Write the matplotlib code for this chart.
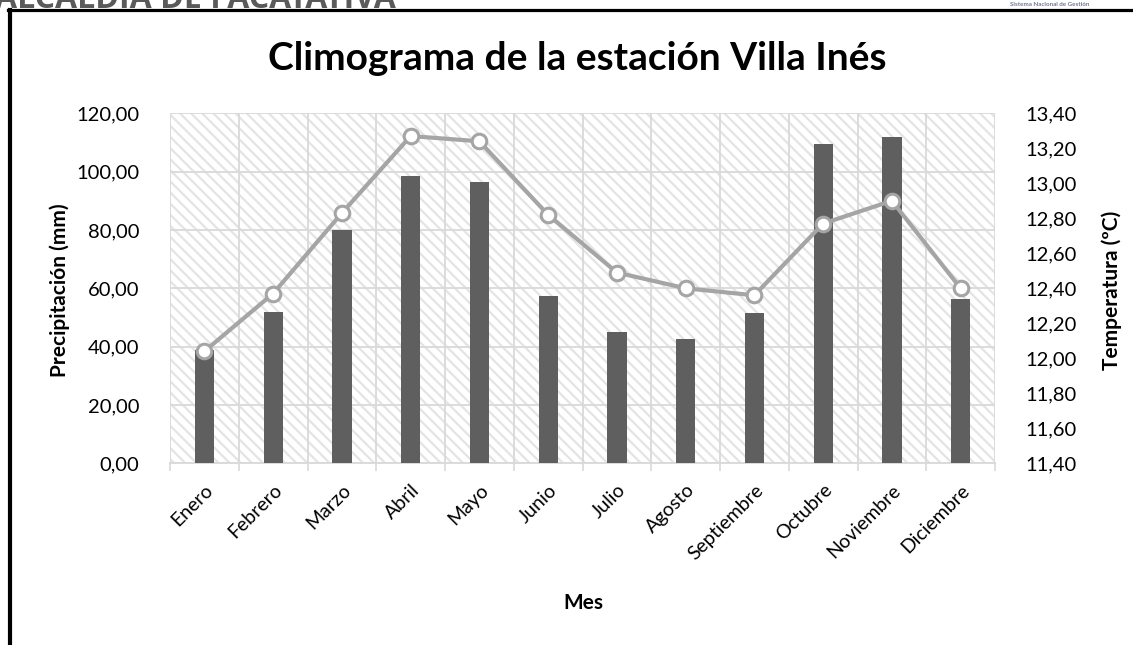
import matplotlib.pyplot as plt
from matplotlib.lines import Line2D
from matplotlib.patches import Rectangle
from matplotlib.ticker import FuncFormatter, FixedLocator

plt.rcParams['font.family'] = ['Lato', 'DejaVu Sans']
plt.rcParams['hatch.linewidth'] = 1.6

meses = ["Enero", "Febrero", "Marzo", "Abril", "Mayo", "Junio", "Julio",
         "Agosto", "Septiembre", "Octubre", "Noviembre", "Diciembre"]
precipitacion = [38.8, 52.0, 80.0, 98.6, 96.6, 57.4, 44.9, 42.7, 51.5, 109.5, 111.8, 56.2]
temperatura = [12.04, 12.37, 12.83, 13.27, 13.24, 12.82, 12.49, 12.40, 12.36, 12.77, 12.90, 12.40]

W, H = 1133, 645
fig = plt.figure(figsize=(W / 100, H / 100), dpi=100)

# page decoration (document header + black frame)
fig.text(-0.004, 1 - 8 / H, "ALCALDIA DE FACATATIVA", fontsize=23, fontweight='bold',
         color='#5a5a5a', va='baseline', ha='left', family=['Open Sans', 'DejaVu Sans'])
fig.text(1010 / W, 1 - 6 / H, "Sistema Nacional de Gestión", fontsize=4.5,
         color='#6a7a99', va='baseline', ha='left', fontweight='bold')
fig.add_artist(Line2D([8 / W, 1], [1 - 9.5 / H, 1 - 9.5 / H], transform=fig.transFigure,
                      color='black', lw=2.3))
fig.add_artist(Line2D([10 / W, 10 / W], [0, 1 - 9.5 / H], transform=fig.transFigure,
                      color='black', lw=3.0))

ax = fig.add_axes([170 / W, 1 - 463.3 / H, 825 / W, 350 / H])
ax2 = ax.twinx()

x = list(range(len(meses)))
ax.set_xlim(-0.5, len(meses) - 0.5)
ax.set_ylim(0, 120)
ax2.set_ylim(11.4, 13.4)

# hatched plot background
ax.add_patch(Rectangle((0, 0), 1, 1, transform=ax.transAxes, facecolor='white',
                       edgecolor='#e4e4e4', hatch='\\\\\\', lw=0, zorder=0))

ax.bar(x, precipitacion, width=0.28, color='#5f5f5f', zorder=3)
ax2.plot(x, temperatura, color='#a5a5a5', lw=3.0, marker='o', markersize=10.5,
         markerfacecolor='white', markeredgecolor='#a5a5a5', markeredgewidth=2.2,
         zorder=4)

grid_c = '#d9d9d9'
fmt = FuncFormatter(lambda v, p: f"{v:.2f}".replace('.', ','))
ax.set_yticks(range(0, 121, 20))
ax.yaxis.set_major_formatter(fmt)
ax2.set_yticks([11.4 + 0.2 * i for i in range(11)])
ax2.yaxis.set_major_formatter(fmt)

ax.set_xticks(x)
ax.set_xticklabels(meses, rotation=45, ha='right', rotation_mode='anchor')
ax.xaxis.set_minor_locator(FixedLocator([i - 0.5 for i in range(len(meses) + 1)]))
ax.tick_params(axis='x', which='major', length=0, pad=13, labelsize=14)
ax.tick_params(axis='x', which='minor', length=6, width=1.2, color=grid_c)
ax.tick_params(axis='y', length=0, pad=22, labelsize=14.5)
ax2.tick_params(axis='y', length=0, pad=22, labelsize=14.5)

ax.grid(True, axis='y', color=grid_c, lw=1.3, zorder=1)
ax.grid(True, axis='x', which='minor', color=grid_c, lw=1.3, zorder=1)
ax.set_axisbelow(True)

for a in (ax, ax2):
    for s in a.spines.values():
        s.set_visible(False)
ax.spines['bottom'].set_visible(True)
ax.spines['bottom'].set_color(grid_c)
ax.spines['bottom'].set_linewidth(1.3)
ax2.patch.set_visible(False)

fig.text(577 / W, 1 - 58 / H, "Climograma de la estación Villa Inés", fontsize=28,
         fontweight='bold', ha='center', va='center')
fig.text(60 / W, 1 - 290 / H, "Precipitación (mm)", fontsize=15, fontweight='bold',
         rotation=90, ha='center', va='center')
fig.text(1112 / W, 1 - 290 / H, "Temperatura (ºC)", fontsize=15, fontweight='bold',
         rotation=90, ha='center', va='center')
fig.text(583 / W, 1 - 603 / H, "Mes", fontsize=15, fontweight='bold',
         ha='center', va='center')

fig.savefig('out.png', dpi=100)
